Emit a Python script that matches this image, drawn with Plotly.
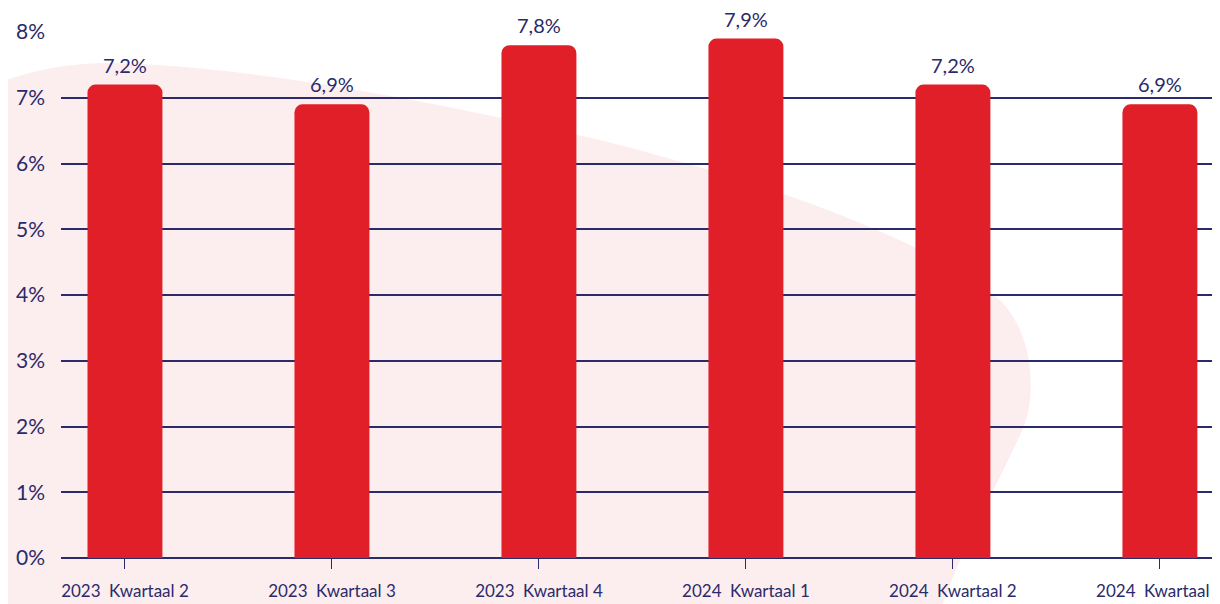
import plotly.graph_objects as go

categories = ["2023\u2002Kwartaal 2", "2023\u2002Kwartaal 3", "2023\u2002Kwartaal 4",
              "2024\u2002Kwartaal 1", "2024\u2002Kwartaal 2", "2024\u2002Kwartaal 3"]
values = [7.2, 6.9, 7.8, 7.9, 7.2, 6.9]
y_ticks = [0, 1, 2, 3, 4, 5, 6, 7, 8]
y_tick_labels = [f"{v}%" for v in y_ticks]
value_labels = [f"{v:.1f}".replace(".", ",") + "%" for v in values]

NAVY = "#2B2A6A"
RED = "#E11F28"
PINK = "#FCEEEF"
FONT = "Lato"

W, H = 1220, 604
OFF = 8  # page body margin
L, R, T, B = 53, 0, 24, 54
pw, ph = W - L - R, H - T - B

x = list(range(len(categories)))

fig = go.Figure()
fig.add_trace(go.Bar(
    x=x, y=values, width=0.362, marker=dict(color=RED, line=dict(width=0)),
    hoverinfo="skip", cliponaxis=False,
))

for xi, v, t in zip(x, values, value_labels):
    fig.add_annotation(x=xi, y=v, text=t, showarrow=False, yanchor="bottom",
                       yshift=6, font=dict(family=FONT, size=20, color=NAVY))

# background blob, given in screen pixel coordinates and converted to paper coords
def px(xp, yp):
    xf = xp - OFF
    yf = yp - OFF
    return f"{(xf - L) / pw:.4f},{(H - B - yf) / ph:.4f}"

blob = [
    ("M", [(-30, 95)]),
    ("C", [(20, 72), (60, 63), (110, 63)]),
    ("C", [(250, 65), (450, 105), (600, 140)]),
    ("C", [(760, 180), (930, 240), (1000, 300)]),
    ("C", [(1035, 335), (1038, 400), (1020, 435)]),
    ("C", [(1000, 480), (960, 550), (937, 620)]),
    ("L", [(-30, 620)]),
]
path = " ".join(cmd + " " + " ".join(px(a, b) for a, b in pts) for cmd, pts in blob) + " Z"
fig.add_shape(type="path", path=path, xref="paper", yref="paper",
              fillcolor=PINK, line=dict(width=0), layer="below")

fig.update_layout(
    width=W, height=H,
    margin=dict(l=L, r=R, t=T, b=B, pad=0),
    paper_bgcolor="white", plot_bgcolor="rgba(0,0,0,0)",
    showlegend=False,
    barcornerradius=8,
    font=dict(family=FONT, color=NAVY),
    xaxis=dict(
        range=[-0.309, 5.329], tickmode="array", tickvals=x, ticktext=categories,
        showgrid=False, zeroline=False, showline=False,
        ticks="outside", ticklen=10, tickwidth=1.2, tickcolor=NAVY,
        tickfont=dict(family=FONT, size=17, color=NAVY), ticklabelstandoff=8,
    ),
    yaxis=dict(
        range=[0, 8], tickmode="array", tickvals=y_ticks, ticktext=y_tick_labels,
        showgrid=True, gridcolor=NAVY, gridwidth=1.5,
        zeroline=True, zerolinecolor=NAVY, zerolinewidth=1.5,
        showline=False, ticks="", ticklabelstandoff=15,
        tickfont=dict(family=FONT, size=21, color=NAVY),
    ),
)

fig.write_html("out.html")
